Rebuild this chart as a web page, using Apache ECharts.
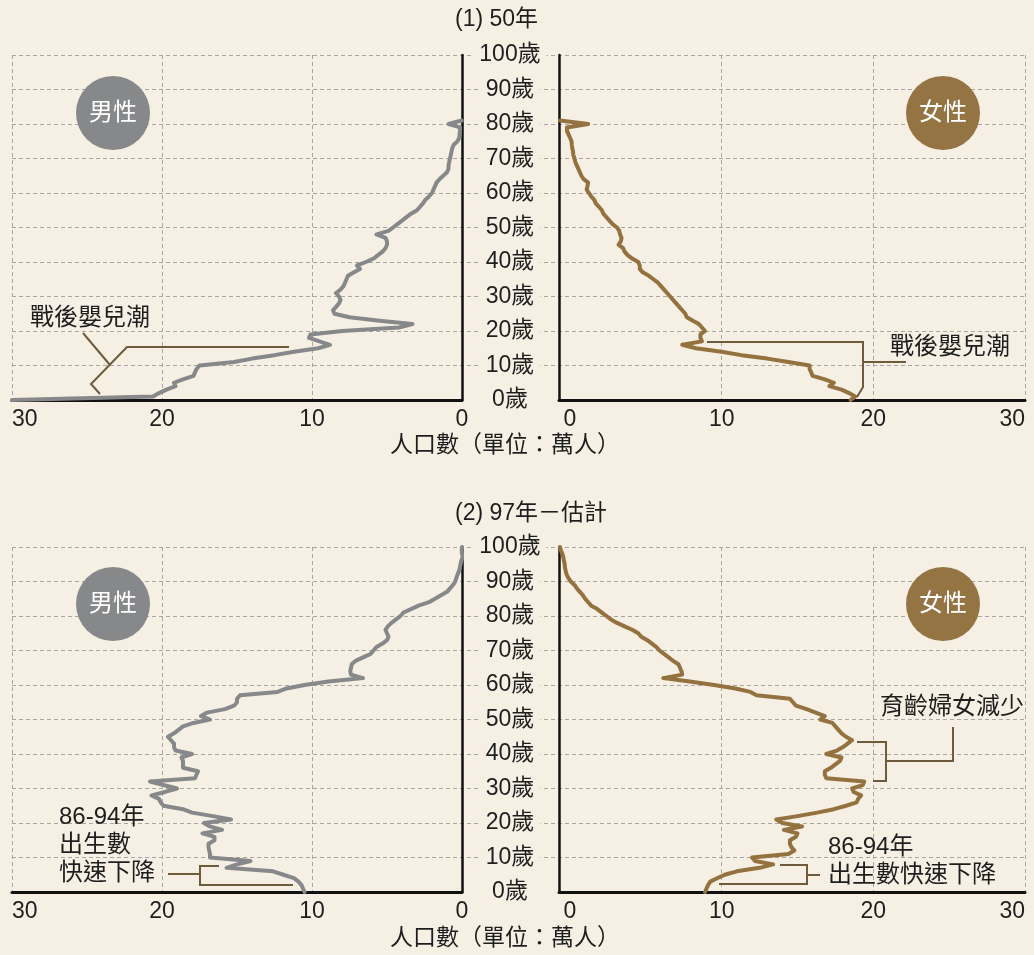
<!DOCTYPE html>
<html>
<head>
<meta charset="utf-8">
<script src="https://cdn.jsdelivr.net/npm/echarts@6/dist/echarts.min.js"></script>
<style>
  html, body { margin: 0; padding: 0; background: #f6efe3; }
  #chart { width: 1034px; height: 955px; }
</style>
</head>
<body>
<div id="chart"></div>
<script>
// 人口數（萬人），index = 年齡
const male1950 = [
  30, 20.6, 20.2, 19.7, 19.1, 19.2, 18.6, 17.9, 17.8, 17.7,
  17.5, 15.2, 14.0, 12.5, 11.2, 9.6, 8.8, 9.5, 10.2, 10.1,
  8.0, 4.2, 3.3, 5.5, 7.5, 8.5, 8.6, 8.4, 8.2, 8.1,
  8.2, 8.4, 8.1, 7.9, 7.8, 7.7, 7.6, 7.2, 6.8, 7.0,
  6.4, 5.9, 5.6, 5.3, 5.1, 5.0, 5.0, 5.1, 5.7, 4.9,
  4.6, 4.3, 4.0, 3.7, 3.4, 3.0, 2.8, 2.6, 2.45, 2.2,
  2.0, 1.9, 1.8, 1.7, 1.5, 1.25, 1.0, 0.9, 0.9, 0.85,
  0.8, 0.75, 0.7, 0.65, 0.55, 0.3, 0.18, 0.16, 0.14, 0.13,
  0.9, 0.02
];
const female1950 = [
  18.5, 18.8, 18.4, 17.9, 17.1, 17.4, 16.8, 16.0, 15.9, 15.8,
  15.8, 14.4, 13.0, 11.3, 10.0, 8.3, 7.4, 8.7, 8.6, 8.6,
  8.9, 8.7, 8.5, 8.1, 7.7, 7.6, 7.4, 7.2, 7.0, 6.8,
  6.6, 6.4, 6.2, 6.0, 5.8, 5.5, 5.2, 4.8, 4.6, 4.6,
  4.5, 4.1, 3.8, 3.6, 3.5, 3.2, 3.35, 3.4, 3.3, 3.25,
  3.1, 2.8, 2.6, 2.4, 2.2, 2.1, 1.9, 1.7, 1.6, 1.4,
  1.25, 1.1, 1.15, 1.2, 0.9, 0.75, 0.65, 0.55, 0.45, 0.35,
  0.3, 0.22, 0.2, 0.15, 0.12, 0.1, 0.0, -0.1, -0.2, -0.2,
  1.2, -0.66
];
const male1997 = [
  10.5, 10.6, 10.7, 10.9, 11.2, 11.9, 12.6, 15.7, 15.0, 14.1,
  16.8, 16.8, 16.85, 16.9, 16.9, 16.5, 16.5, 17.3, 16.0, 16.8,
  17.2, 15.4, 16.6, 18.0, 18.6, 19.9, 20.1, 20.2, 20.7, 19.8,
  19.0, 19.9, 20.8, 17.8, 17.7, 17.6, 18.6, 18.6, 18.6, 18.7,
  18.0, 19.1, 19.2, 19.2, 19.4, 19.6, 19.2, 18.9, 18.6, 17.9,
  16.8, 17.4, 17.0, 15.8, 15.2, 15.0, 15.0, 14.8, 12.3, 11.7,
  10.5, 8.9, 6.6, 7.4, 7.45, 7.4, 7.35, 7.1, 6.6, 6.1,
  5.9, 5.7, 5.3, 5.0, 4.9, 5.0, 5.1, 4.95, 4.7, 4.4,
  4.1, 3.9, 3.4, 2.9, 2.2, 1.8, 1.4, 1.0, 0.8, 0.6,
  0.45, 0.38, 0.3, 0.2, 0.14, 0.1, 0.05, -0.05, 0, 0.02,
  0
];
const female1997 = [
  8.9, 9.0, 9.1, 9.25, 9.7, 10.2, 11.0, 12.5, 13.4, 12.2,
  12.0, 14.4, 14.8, 14.6, 14.5, 14.5, 14.9, 15.0, 14.1, 15.3,
  14.0, 13.6, 15.0, 16.3, 17.4, 18.2, 18.9, 19.0, 19.2, 18.7,
  18.6, 19.3, 19.4, 16.9, 16.8, 16.8, 17.2, 17.5, 17.8, 17.9,
  16.9, 17.6, 18.0, 18.3, 18.6, 18.2, 17.9, 17.7, 17.5, 17.3,
  16.5, 16.8, 16.2, 15.6, 14.9, 14.7, 14.5, 12.3, 11.9, 10.9,
  9.5, 7.9, 6.15, 7.4, 7.35, 7.25, 7.15, 6.8, 6.5, 6.2,
  5.9, 5.7, 5.4, 5.1, 4.7, 4.5, 4.1, 3.6, 3.1, 2.7,
  2.4, 2.1, 1.8, 1.4, 1.2, 1.0, 0.85, 0.65, 0.45, 0.3,
  0.05, -0.1, -0.22, -0.28, -0.33, -0.35, -0.4, -0.44, -0.5, -0.6,
  -0.66
];
const ageTicks = [0, 10, 20, 30, 40, 50, 60, 70, 80, 90, 100];
const popTicks = [0, 10, 20, 30];

const BG = '#f6efe3';
const TEXT = '#1e1e1e';
const GRAY = '#87888a';
const BROWN = '#94723f';
const NOTE = '#6e5a3c';
const GRIDLINE = '#a8a6a2';
const FONT = "'Liberation Sans', 'Noto Sans CJK TC', sans-serif";

const toPoints = vals => vals.map((v, age) => [v, age]);

const chart = echarts.init(document.getElementById('chart'));

const panelTop = [55, 547];
const ageMin = ageTicks[0];
const ageMax = ageTicks[ageTicks.length - 1];
const popMax = popTicks[popTicks.length - 1];
// the women's axis line sits a little left of its zero; the data grid starts at that line
const RIGHT_LEFT = 570, RIGHT_W = 455, RIGHT_AXIS_X = 559;
const rightDataMin = -(RIGHT_LEFT - RIGHT_AXIS_X) * popMax / RIGHT_W;

const dashed = { show: true, lineStyle: { color: GRIDLINE, type: [4, 3], width: 1 }, showMinLine: false };
const noAxis = { axisLine: { show: false }, axisTick: { show: false }, axisLabel: { show: false }, splitLine: { show: false } };

const grids = [];
const xAxes = [];
const yAxes = [];
const popAxisLabel = { color: TEXT, fontSize: 23, fontFamily: FONT, margin: 8 };

panelTop.forEach(top => {
  const base = grids.length;
  // 0: men, 1: women axes, 2: centre (age labels + horizontal dashes), 3: women data
  grids.push({ left: 12, top, width: 450, height: 345 });
  grids.push({ left: RIGHT_LEFT, top, width: RIGHT_W, height: 345 });
  grids.push({ left: 12, top, width: 1013, height: 345 });
  grids.push({ left: RIGHT_AXIS_X, top, width: RIGHT_LEFT + RIGHT_W - RIGHT_AXIS_X, height: 345 });

  xAxes.push({
    gridIndex: base, type: 'value', inverse: true, min: popTicks[0], max: popMax, interval: 10,
    axisLine: { show: true, onZero: false, lineStyle: { color: '#111', width: 3 } },
    axisTick: { show: false },
    axisLabel: Object.assign({ alignMaxLabel: 'left' }, popAxisLabel),
    splitLine: dashed
  });
  xAxes.push({
    gridIndex: base + 1, type: 'value', min: popTicks[0], max: popMax, interval: 10,
    axisLine: { show: false },
    axisTick: { show: false },
    axisLabel: Object.assign({ alignMaxLabel: 'right' }, popAxisLabel),
    splitLine: dashed
  });
  xAxes.push(Object.assign({ gridIndex: base + 2, type: 'value', min: 0, max: popMax }, noAxis));
  xAxes.push({
    gridIndex: base + 3, type: 'value', min: rightDataMin, max: popMax,
    axisLine: { show: true, onZero: false, lineStyle: { color: '#111', width: 3 } },
    axisTick: { show: false }, axisLabel: { show: false }, splitLine: { show: false }
  });

  yAxes.push({
    gridIndex: base, type: 'value', position: 'right', min: ageMin, max: ageMax, interval: 10,
    axisLine: { show: true, onZero: false, lineStyle: { color: '#111', width: 2.5 } },
    axisTick: { show: false }, axisLabel: { show: false }, splitLine: { show: false }
  });
  yAxes.push(Object.assign({ gridIndex: base + 1, type: 'value', min: ageMin, max: ageMax, interval: 10 }, noAxis));
  yAxes.push({
    gridIndex: base + 2, type: 'value', position: 'left', min: ageMin, max: ageMax, interval: 10,
    axisLine: { show: false }, axisTick: { show: false },
    axisLabel: {
      inside: true, margin: 498, align: 'center', formatter: '{value}歲',
      color: TEXT, fontSize: 23, fontFamily: FONT,
      backgroundColor: BG, padding: [0, 6]
    },
    splitLine: dashed
  });
  yAxes.push({
    gridIndex: base + 3, type: 'value', position: 'left', min: ageMin, max: ageMax, interval: 10,
    axisLine: { show: true, onZero: false, lineStyle: { color: '#111', width: 2.5 } },
    axisTick: { show: false }, axisLabel: { show: false }, splitLine: { show: false }
  });
});
grids.forEach(g => { g.containLabel = false; g.outerBoundsMode = 'none'; });

function lineSeries(name, vals, axis, color) {
  return {
    name, type: 'line', data: toPoints(vals), xAxisIndex: axis, yAxisIndex: axis,
    showSymbol: false, symbol: 'none', clip: false, smooth: false,
    lineStyle: { color, width: 4, join: 'round', cap: 'round' }, z: 5
  };
}

function txt(text, x, y, size, color, align) {
  return { type: 'text', x, y, z: 50,
    style: { text, fill: color || TEXT, fontSize: size || 24, fontFamily: FONT, align: align || 'left', verticalAlign: 'middle' } };
}
function poly(points) {
  return { type: 'polyline', z: 40, shape: { points }, style: { stroke: NOTE, lineWidth: 2, fill: null } };
}
function badge(label, cx, cy, color) {
  return [
    { type: 'circle', z: 30, shape: { cx, cy, r: 37 }, style: { fill: color } },
    txt(label, cx, cy, 24, '#ffffff', 'center')
  ];
}

const titleStyle = { fontSize: 23, fontWeight: 'normal', color: TEXT, fontFamily: FONT };

chart.setOption({
  backgroundColor: BG,
  animation: false,
  textStyle: { fontFamily: FONT },
  title: [
    { text: '(1) 50年', left: 455, top: 8, padding: 0, textStyle: titleStyle },
    { text: '人口數（單位：萬人）', left: 390, top: 434, padding: 0, textStyle: titleStyle },
    { text: '(2) 97年－估計', left: 455, top: 502, padding: 0, textStyle: titleStyle },
    { text: '人口數（單位：萬人）', left: 390, top: 927, padding: 0, textStyle: titleStyle }
  ],
  grid: grids,
  xAxis: xAxes,
  yAxis: yAxes,
  series: [
    lineSeries('男性 50年', male1950, 0, GRAY),
    lineSeries('女性 50年', female1950, 3, BROWN),
    lineSeries('男性 97年', male1997, 4, GRAY),
    lineSeries('女性 97年', female1997, 7, BROWN)
  ],
  graphic: [
    ...badge('男性', 113, 113, GRAY),
    ...badge('女性', 943, 113, '#957443'),
    ...badge('男性', 113, 604, GRAY),
    ...badge('女性', 943, 604, '#957443'),
    // 戰後嬰兒潮 (left)
    txt('戰後嬰兒潮', 30, 318),
    poly([[289, 347], [127, 347], [91, 384], [100, 394]]),
    poly([[110, 365], [83, 333]]),
    // 戰後嬰兒潮 (right)
    txt('戰後嬰兒潮', 890, 347),
    poly([[707, 342], [863, 342], [863, 387], [857, 397]]),
    poly([[863, 362], [906, 362]]),
    // 育齡婦女減少
    txt('育齡婦女減少', 880, 707),
    poly([[857, 742], [886, 742], [886, 781], [873, 781]]),
    poly([[886, 761], [953, 761], [953, 727]]),
    // 86-94年 出生數快速下降 (right)
    txt('86-94年', 828, 847),
    txt('出生數快速下降', 828, 875),
    poly([[780, 865], [807, 865], [807, 884], [719, 884]]),
    poly([[807, 875], [820, 875]]),
    // 86-94年 出生數 快速下降 (left)
    txt('86-94年', 59, 817),
    txt('出生數', 59, 845),
    txt('快速下降', 59, 873),
    poly([[219, 866], [200, 866], [200, 885], [293, 885]]),
    poly([[200, 874], [168, 874]])
  ]
});
</script>
</body>
</html>
